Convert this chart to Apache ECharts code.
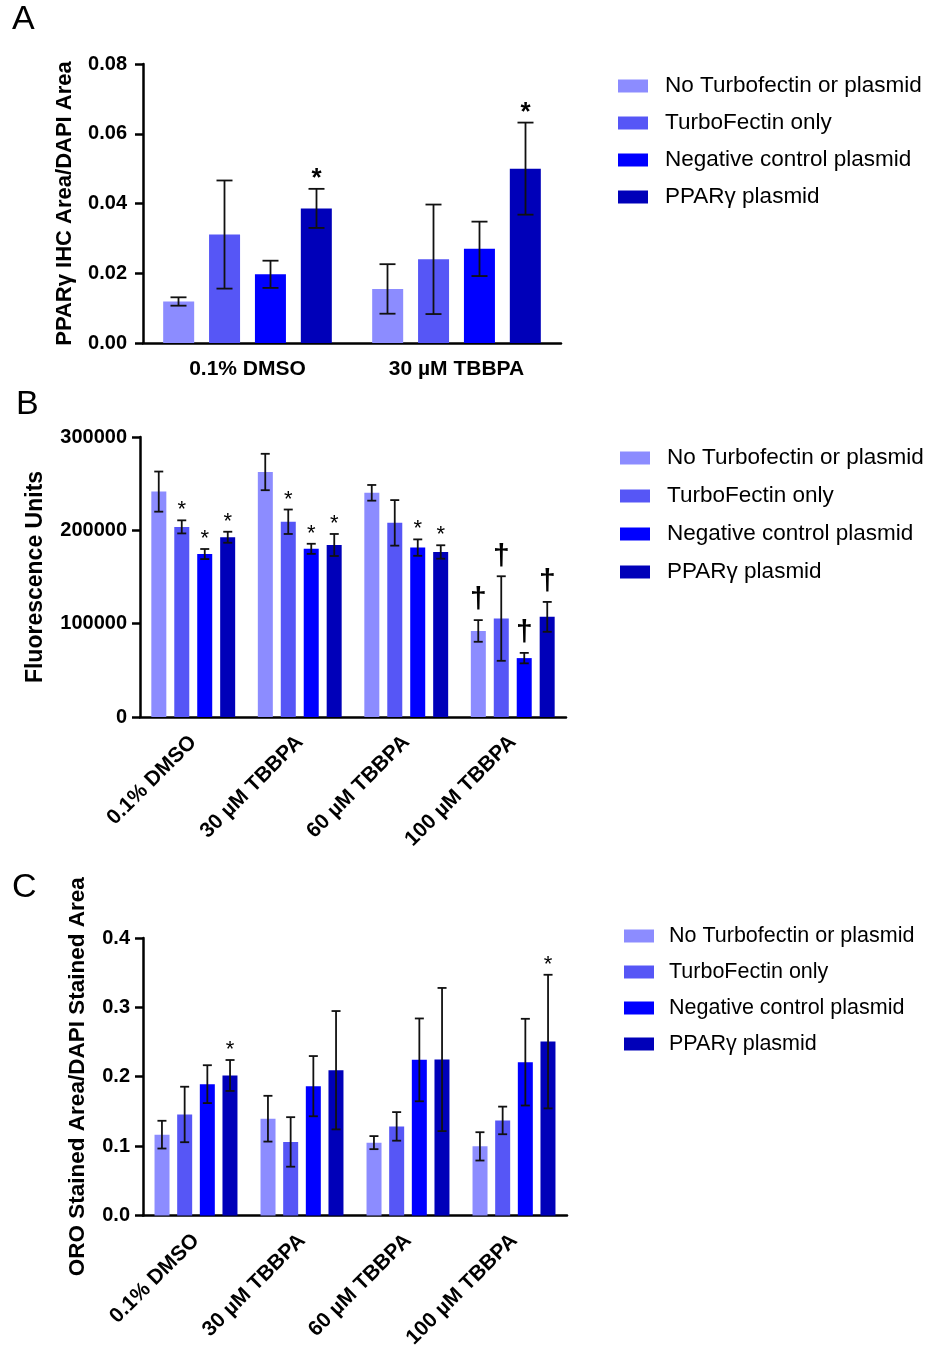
<!DOCTYPE html>
<html>
<head>
<meta charset="utf-8">
<title>PPARγ / TBBPA bar charts</title>
<script src="https://cdn.jsdelivr.net/npm/echarts@6/dist/echarts.min.js"></script>
<style>
  html, body { margin: 0; padding: 0; background: #fff; }
  #chart { width: 931px; height: 1351px; }
</style>
</head>
<body>
<div id="chart"></div>
<script>
// ---- data ----
const seriesNames = ['No Turbofectin or plasmid', 'TurboFectin only', 'Negative control plasmid', 'PPARγ plasmid'];
const colors = ['#8c8cff', '#5656f6', '#0000ff', '#0000b9'];

// panel A (series x category)
const catsA = ['0.1% DMSO', '30 µM TBBPA'];
const meanA = [[0.0119, 0.0155], [0.0311, 0.0240], [0.0197, 0.0270], [0.0386, 0.0500]];
const errA = [[0.0012, 0.0071], [0.0155, 0.0157], [0.0039, 0.0078], [0.0056, 0.0132]];
const markA = [['', ''], ['', ''], ['', ''], ['*', '*']];

// panel B
const catsB = ['0.1% DMSO', '30 µM TBBPA', '60 µM TBBPA', '100 µM TBBPA'];
const meanB = [
  [241500, 262500, 240200, 92200],
  [203700, 209200, 208000, 105500],
  [174600, 180200, 181500, 63100],
  [192600, 184300, 176800, 107300],
];
const errB = [
  [21500, 19500, 8400, 11600],
  [7000, 13100, 24400, 45300],
  [5400, 5400, 8800, 5600],
  [5900, 11800, 7200, 16000],
];
const markB = [['', '', '', '†'], ['*', '*', '', '†'], ['*', '*', '*', '†'], ['*', '*', '*', '†']];

// panel C
const catsC = ['0.1% DMSO', '30 µM TBBPA', '60 µM TBBPA', '100 µM TBBPA'];
const meanC = [
  [0.1165, 0.1395, 0.1050, 0.0996],
  [0.1456, 0.1060, 0.1284, 0.1370],
  [0.1893, 0.1864, 0.2243, 0.2210],
  [0.2018, 0.2094, 0.2248, 0.2507],
];
const errC = [
  [0.0200, 0.0330, 0.0094, 0.0204],
  [0.0400, 0.0357, 0.0206, 0.0199],
  [0.0273, 0.0434, 0.0597, 0.0625],
  [0.0223, 0.0853, 0.1032, 0.0963],
];
const markC = [['', '', '', ''], ['', '', '', ''], ['', '', '', ''], ['*', '', '', '*']];

// ---- chart ----
const font = '"Liberation Sans", Arial, sans-serif';
const myChart = echarts.init(document.getElementById('chart'));

function yAxisCfg(gi, max, step, digits, name, nameGap, nameSize, labelMargin) {
  return {
    type: 'value', gridIndex: gi, min: 0, max: max, interval: step,
    name: name, nameLocation: 'middle', nameGap: nameGap,
    nameTextStyle: { fontFamily: font, fontWeight: 'bold', fontSize: nameSize, color: '#000' },
    axisLine: { show: true, lineStyle: { color: '#000', width: 2.5 } },
    axisTick: { show: true, length: 8, lineStyle: { color: '#000', width: 2.5 } },
    axisLabel: {
      fontFamily: font, fontWeight: 'bold', fontSize: 20, color: '#000', margin: labelMargin,
      formatter: v => digits == null ? String(v) : v.toFixed(digits),
    },
    splitLine: { show: false },
  };
}

function xAxisCfg(gi, cats, rotate, size, margin) {
  return {
    type: 'category', gridIndex: gi, data: cats,
    axisLine: { lineStyle: { color: '#000', width: 2.5 } },
    axisTick: { alignWithLabel: true, length: 10, lineStyle: { color: '#000', width: 2.5 } },
    axisLabel: {
      fontFamily: font, fontWeight: 'bold', fontSize: size, color: '#000',
      rotate: rotate, margin: margin, interval: 0,
    },
  };
}

function barSeries(gi, means, barWidth, barGap) {
  return means.map((vals, si) => ({
    type: 'bar', name: seriesNames[si], xAxisIndex: gi, yAxisIndex: gi,
    data: vals, barWidth: barWidth, barGap: barGap,
    itemStyle: { color: colors[si] },
    silent: true,
  }));
}

function errSeries(gi, means, errs, marks, pitch, cap, markSize) {
  return means.map((vals, si) => ({
    type: 'custom', name: 'err' + gi + '_' + si, xAxisIndex: gi, yAxisIndex: gi, z: 10,
    silent: true,
    data: vals.map((m, ci) => [ci, m, errs[si][ci]]),
    renderItem: (params, api) => {
      const ci = api.value(0), m = api.value(1), e = api.value(2);
      const top = api.coord([ci, m + e]);
      const bot = api.coord([ci, m - e]);
      const x = top[0] + (si - 1.5) * pitch;
      const ls = { stroke: '#111', lineWidth: 1.8 };
      const children = [
        { type: 'line', shape: { x1: x, y1: top[1], x2: x, y2: bot[1] }, style: ls },
        { type: 'line', shape: { x1: x - cap / 2, y1: top[1], x2: x + cap / 2, y2: top[1] }, style: ls },
        { type: 'line', shape: { x1: x - cap / 2, y1: bot[1], x2: x + cap / 2, y2: bot[1] }, style: ls },
      ];
      const mk = marks[si][params.dataIndex];
      if (mk) {
        const dag = mk === '†';
        children.push({
          type: 'text',
          style: {
            text: mk, x: x, y: top[1] - (dag ? 5 : (markSize > 22 ? -3 : -1)),
            align: 'center', verticalAlign: 'bottom',
            font: (dag ? 'bold ' + (markSize + 8) : (markSize > 22 ? 'bold ' : 'normal ') + markSize) + 'px ' + font,
            fill: '#000',
          },
        });
      }
      return { type: 'group', children: children };
    },
  }));
}

function legendCfg(left, top, gap, size, pad) {
  return {
    orient: 'vertical', left: left, top: top, itemGap: gap,
    itemWidth: 30, itemHeight: 13, icon: 'rect',
    selectedMode: false,
    data: seriesNames,
    textStyle: { fontFamily: font, fontSize: size, color: '#000', padding: [0, 0, 0, pad], lineHeight: 24 },
  };
}

const option = {
  animation: false,
  backgroundColor: '#fff',
  grid: [
    { left: 143, top: 64, width: 418, height: 279 },
    { left: 140, top: 437, width: 426, height: 280 },
    { left: 143, top: 938, width: 424, height: 278 },
  ],
  xAxis: [
    xAxisCfg(0, catsA, 0, 21, 16),
    xAxisCfg(1, catsB, 45, 21, 22),
    xAxisCfg(2, catsC, 45, 21, 22),
  ],
  yAxis: [
    yAxisCfg(0, 0.08, 0.02, 2, 'PPARγ IHC Area/DAPI Area', 67, 22, 16),
    yAxisCfg(1, 300000, 100000, null, 'Fluorescence Units', 93, 23, 13),
    yAxisCfg(2, 0.4, 0.1, 1, 'ORO Stained Area/DAPI Stained Area', 54, 22.5, 13),
  ],
  legend: [
    legendCfg(613, 69, 13, 22.5, 12),
    legendCfg(615, 441, 14, 22.5, 12),
    legendCfg(619, 919, 12, 21.5, 10),
  ],
  graphic: [
    { type: 'text', left: 12, top: 3, style: { text: 'A', font: '34px ' + font, fill: '#000' } },
    { type: 'text', left: 16, top: 388, style: { text: 'B', font: '34px ' + font, fill: '#000' } },
    { type: 'text', left: 12, top: 871, style: { text: 'C', font: '34px ' + font, fill: '#000' } },
  ],
  series: [
    ...barSeries(0, meanA, 31, '48%'),
    ...barSeries(1, meanB, 15, '53%'),
    ...barSeries(2, meanC, 15, '51%'),
    ...errSeries(0, meanA, errA, markA, 46, 16, 26),
    ...errSeries(1, meanB, errB, markB, 23, 9, 22),
    ...errSeries(2, meanC, errC, markC, 22.7, 9, 22),
  ],
};

myChart.setOption(option);
window.addEventListener('resize', () => myChart.resize());
</script>
</body>
</html>
